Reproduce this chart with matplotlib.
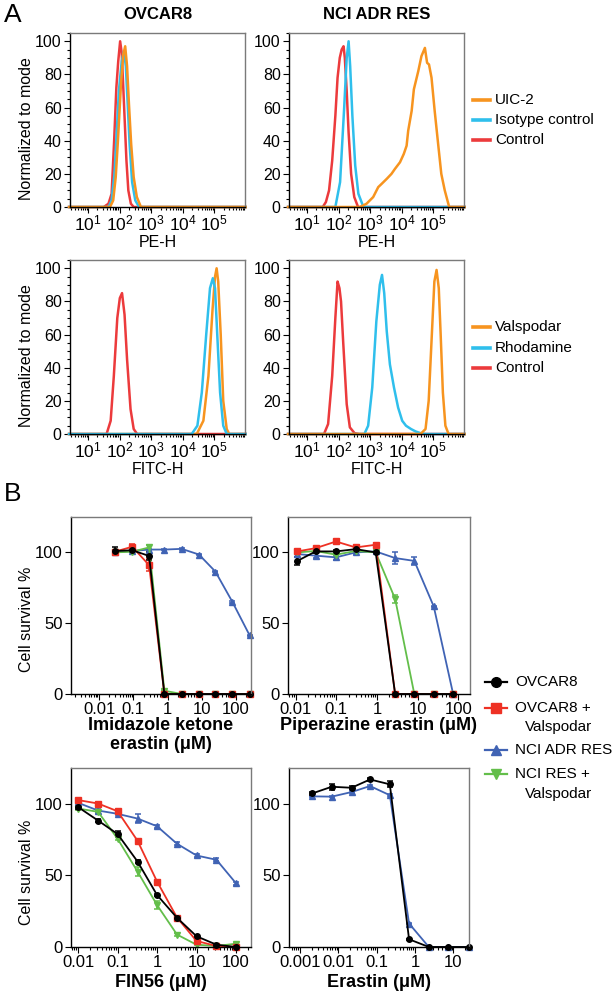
import matplotlib
matplotlib.use("Agg")
import matplotlib.pyplot as plt
from matplotlib.lines import Line2D
from matplotlib.ticker import (FixedLocator, FixedFormatter, LogLocator,
                               NullFormatter, MultipleLocator)

plt.rcParams["font.family"] = ["Liberation Sans", "DejaVu Sans"]
plt.rcParams["mathtext.fontset"] = "custom"
plt.rcParams["mathtext.rm"] = "Liberation Sans"

W, H = 613, 993

RED = "#EC3A3C"
CYAN = "#2FBFEC"
ORANGE = "#F7941F"

# ---------------- panel A: flow histograms (log10 intensity, % of mode)
# OVCAR8, PE-H
ov_pe_ctrl_x = [0.4, 1.5, 1.65, 1.75, 1.83, 1.9, 1.96, 2.02, 2.07, 2.12, 2.17, 2.22, 2.28, 2.36, 2.45, 6.0]
ov_pe_ctrl_y = [0, 0, 2, 8, 40, 72, 88, 100, 93, 72, 50, 28, 10, 2, 0, 0]
ov_pe_iso_x = [0.4, 1.65, 1.75, 1.84, 1.92, 1.98, 2.07, 2.14, 2.2, 2.26, 2.32, 2.4, 2.5, 2.62, 6.0]
ov_pe_iso_y = [0, 0, 4, 20, 48, 70, 88, 94, 85, 62, 38, 15, 4, 0, 0]
ov_pe_uic_x = [0.4, 1.7, 1.8, 1.88, 1.95, 2.05, 2.12, 2.18, 2.24, 2.3, 2.37, 2.45, 2.55, 2.68, 6.0]
ov_pe_uic_y = [0, 0, 4, 18, 40, 75, 92, 97, 85, 62, 38, 18, 6, 0, 0]

# NCI ADR RES, PE-H
adr_pe_ctrl_x = [0.4, 1.5, 1.6, 1.7, 1.8, 1.9, 1.97, 2.04, 2.1, 2.16, 2.2, 2.26, 2.32, 2.4, 2.5, 2.62, 6.0]
adr_pe_ctrl_y = [0, 0, 3, 10, 28, 55, 78, 90, 95, 97, 90, 70, 45, 20, 6, 0, 0]
adr_pe_iso_x = [0.4, 1.9, 2.05, 2.18, 2.26, 2.32, 2.37, 2.44, 2.53, 2.63, 2.79, 6.0]
adr_pe_iso_y = [0, 0, 15, 60, 90, 100, 85, 55, 25, 8, 0, 0]
adr_pe_uic_x = [0.4, 2.68, 2.89, 3.1, 3.26, 3.37, 3.53, 3.68, 3.79, 3.95, 4.07, 4.16,
                4.21, 4.32, 4.39, 4.53, 4.63, 4.74, 4.81, 4.87, 4.95, 5.05, 5.16,
                5.26, 5.37, 5.51, 6.0]
adr_pe_uic_y = [0, 0, 2, 6, 12, 14, 17, 20, 23, 27, 32, 37,
                46, 58, 71, 82, 91, 96, 87, 86, 78, 58, 38,
                20, 10, 0, 0]

# OVCAR8, FITC-H
ov_fitc_ctrl_x = [0.4, 1.59, 1.72, 1.82, 1.93, 2.01, 2.08, 2.16, 2.24, 2.35, 2.45, 2.56, 6.0]
ov_fitc_ctrl_y = [0, 0, 8, 35, 70, 82, 85, 72, 45, 15, 3, 0, 0]
ov_fitc_rho_x = [0.4, 4.29, 4.47, 4.61, 4.75, 4.87, 4.96, 5.03, 5.1, 5.19, 5.29, 5.4, 6.0]
ov_fitc_rho_y = [0, 0, 5, 25, 60, 88, 94, 88, 60, 25, 5, 0, 0]
ov_fitc_val_x = [0.4, 4.45, 4.66, 4.82, 4.95, 5.03, 5.08, 5.13, 5.21, 5.29, 5.4, 5.48, 6.0]
ov_fitc_val_y = [0, 0, 8, 35, 75, 95, 100, 92, 60, 20, 3, 0, 0]

# NCI ADR RES, FITC-H
adr_fitc_ctrl_x = [0.4, 1.54, 1.67, 1.8, 1.9, 1.97, 2.03, 2.08, 2.15, 2.26, 2.36, 2.51, 2.66, 6.0]
adr_fitc_ctrl_y = [0, 0, 6, 35, 70, 92, 88, 80, 55, 18, 4, 0.5, 0, 0]
adr_fitc_rho_x = [0.4, 2.82, 2.94, 3.07, 3.2, 3.31, 3.38, 3.45, 3.53, 3.63, 3.76, 3.89,
                  4.02, 4.14, 4.3, 4.45, 4.6, 4.76, 6.0]
adr_fitc_rho_y = [0, 0, 5, 28, 68, 90, 96, 85, 62, 42, 28, 16,
                  8, 5, 3, 1.5, 0.5, 0, 0]
adr_fitc_val_x = [0.4, 4.6, 4.76, 4.86, 4.96, 5.04, 5.11, 5.18, 5.24, 5.31, 5.39, 5.49, 6.0]
adr_fitc_val_y = [0, 0, 3, 20, 60, 92, 99, 88, 60, 25, 5, 0, 0]

flow_ticks = [1e1, 1e2, 1e3, 1e4, 1e5]
flow_ticklabels = [r"$\mathregular{10^1}$", r"$\mathregular{10^2}$", r"$\mathregular{10^3}$",
                   r"$\mathregular{10^4}$", r"$\mathregular{10^5}$"]

# ---------------- panel B: cell survival (%)
doses_ike = [0.029, 0.093, 0.29, 0.81, 2.6, 8.3, 25, 79, 250]
ike_ovcar8 = [101, 101.5, 97.5, 0, 0, 0, 0, 0, 0]
ike_ovcar8_err = [2.5, 1, 3, 0, 0, 0, 0, 0, 0]
ike_ovcar8_val = [100.5, 104, 91, 0, 0, 0, 0, 0, 0]
ike_ovcar8_val_err = [1.5, 2, 4, 0, 0, 0, 0, 0, 0]
ike_adr = [100, 101, 102, 102, 102.5, 98.5, 86.5, 65, 41.5]
ike_adr_err = [0.5, 0.5, 0.5, 0.5, 0.5, 0.5, 0.5, 0.5, 0.5]
ike_res_val = [100, 100.5, 103.5, 2.3, 0, 0, 0, 0, 0]
ike_res_val_err = [0.5, 0.5, 2, 0.5, 0, 0, 0, 0, 0]

doses_pe = [0.011, 0.031, 0.098, 0.30, 0.93, 2.8, 8.3, 25, 75]
pe_ovcar8 = [94, 100.7, 100.7, 102.3, 100, 0, 0, 0, 0]
pe_ovcar8_err = [3, 1, 1, 1, 1, 0, 0, 0, 0]
pe_ovcar8_val = [100.7, 103, 107.7, 103.5, 105.4, 0, 0, 0, 0]
pe_ovcar8_val_err = [1, 1, 1, 1, 1, 0, 0, 0, 0]
pe_adr = [98.8, 97.7, 96.5, 100, 100.7, 96, 94, 61.8, 0]
pe_adr_err = [2, 2, 2, 1, 1, 4, 3, 0.5, 0]
pe_res_val = [100, 101, 98.4, 101, 100, 67.2, 0, 0, 0]
pe_res_val_err = [0.5, 0.5, 1, 0.5, 0.5, 3, 0, 0, 0]

doses_fin = [0.01, 0.032, 0.1, 0.32, 1, 3.2, 10, 32, 100]
fin_ovcar8 = [97.7, 88.3, 78.9, 59.7, 36.3, 20.4, 7.5, 1.6, 0]
fin_ovcar8_err = [1, 1, 2, 1, 1, 1, 1, 0.5, 0]
fin_ovcar8_val = [102.6, 100.2, 94.8, 74.2, 45.7, 20.6, 4.2, 0.7, 0]
fin_ovcar8_val_err = [1, 1, 1, 1, 1, 1, 1, 0.5, 0]
fin_adr = [100.7, 95.3, 93, 89.7, 84.3, 72.1, 63.9, 60.9, 44.5]
fin_adr_err = [1, 2, 1, 3, 1, 1, 1, 1, 1]
fin_res_val = [96.7, 94.4, 75.6, 52.7, 29.3, 8.7, 1.6, 0.7, 2.3]
fin_res_val_err = [1, 1, 1, 3, 3, 1, 0.5, 0.5, 0.5]

doses_era = [0.0021, 0.0067, 0.022, 0.067, 0.22, 0.7, 2.3, 7.4, 25]
era_ovcar8 = [107.3, 111.9, 111.2, 117, 113.6, 5.4, 0, 0, 0]
era_ovcar8_err = [1, 2, 1, 1, 2, 0.5, 0, 0, 0]
era_adr = [105.2, 105, 108.2, 112.4, 106, 16.4, 0, 0, 0]
era_adr_err = [0.5, 0.5, 0.5, 0.5, 0.5, 0.5, 0, 0, 0]

B_BLACK = "#000000"
B_RED = "#EE3124"
B_BLUE = "#4063B4"
B_GREEN = "#63BE4A"


fig = plt.figure(figsize=(W / 100, H / 100), dpi=100)


def axes_px(left, top, right, bottom):
    return fig.add_axes([left / W, 1 - bottom / H, (right - left) / W, (bottom - top) / H])


def style_box(ax):
    for side in ("top", "right"):
        ax.spines[side].set_color("#7a7a7a")
    for side in ax.spines:
        ax.spines[side].set_linewidth(1.0)
    ax.tick_params(which="both", direction="out", width=0.8, labelsize=11.5, pad=2)
    ax.tick_params(which="major", length=4)
    ax.tick_params(which="minor", length=2)
    ax.tick_params(top=False, right=False, which="both")


def style_flow(ax, xlabel, ylabel=True):
    ax.set_xscale("log")
    ax.set_xlim(10 ** 0.43, 10 ** 5.98)
    ax.set_ylim(0, 105)
    ax.xaxis.set_major_locator(FixedLocator(flow_ticks))
    ax.xaxis.set_major_formatter(FixedFormatter(flow_ticklabels))
    ax.xaxis.set_minor_locator(LogLocator(base=10, subs=range(2, 10), numticks=20))
    ax.xaxis.set_minor_formatter(NullFormatter())
    ax.yaxis.set_major_locator(MultipleLocator(20))
    ax.yaxis.set_minor_locator(MultipleLocator(5))
    style_box(ax)
    ax.tick_params(axis="x", labelsize=12.5, pad=1)
    ax.set_xlabel(xlabel, fontsize=11.5, labelpad=1)
    if ylabel:
        ax.set_ylabel("Normalized to mode", fontsize=11.5)
        ax.yaxis.set_label_coords(-0.205, 0.45)


def flow(ax, xs, ys, color):
    ax.plot([10 ** v for v in xs], ys, color=color, lw=1.8, clip_on=False, solid_joinstyle="round")


def style_cell(ax, lo, hi, ticks, ticklabels, xlabel, pad=0):
    ax.set_xscale("log")
    ax.set_xlim(10 ** lo, 10 ** hi)
    ax.set_ylim(0, 125)
    ax.set_yticks([0, 50, 100])
    ax.xaxis.set_major_locator(FixedLocator(ticks))
    ax.xaxis.set_major_formatter(FixedFormatter(ticklabels))
    ax.xaxis.set_minor_locator(LogLocator(base=10, subs=range(2, 10), numticks=20))
    ax.xaxis.set_minor_formatter(NullFormatter())
    style_box(ax)
    ax.tick_params(labelsize=12)
    ax.set_xlabel(xlabel, fontsize=13, fontweight="bold", labelpad=pad, linespacing=1.15)


def curve(ax, x, y, err, color, marker, ms):
    ax.errorbar(x, y, yerr=err, color=color, marker=marker, ms=ms, lw=1.3,
                elinewidth=1.1, capsize=2.5, capthick=1.1, clip_on=False)


# ---------------- A
ax1 = axes_px(70, 33, 245, 207)
flow(ax1, ov_pe_ctrl_x, ov_pe_ctrl_y, RED)
flow(ax1, ov_pe_iso_x, ov_pe_iso_y, CYAN)
flow(ax1, ov_pe_uic_x, ov_pe_uic_y, ORANGE)
style_flow(ax1, "PE-H")
ax1.set_title("OVCAR8", fontsize=12, fontweight="bold", pad=10)

ax2 = axes_px(289, 33, 464, 207)
flow(ax2, adr_pe_ctrl_x, adr_pe_ctrl_y, RED)
flow(ax2, adr_pe_iso_x, adr_pe_iso_y, CYAN)
flow(ax2, adr_pe_uic_x, adr_pe_uic_y, ORANGE)
style_flow(ax2, "PE-H", ylabel=False)
ax2.set_title("NCI ADR RES", fontsize=12, fontweight="bold", pad=10)

ax3 = axes_px(70, 260, 245, 434)
flow(ax3, ov_fitc_ctrl_x, ov_fitc_ctrl_y, RED)
flow(ax3, ov_fitc_val_x, ov_fitc_val_y, ORANGE)
flow(ax3, ov_fitc_rho_x, ov_fitc_rho_y, CYAN)
style_flow(ax3, "FITC-H")

ax4 = axes_px(289, 260, 464, 434)
flow(ax4, adr_fitc_ctrl_x, adr_fitc_ctrl_y, RED)
flow(ax4, adr_fitc_rho_x, adr_fitc_rho_y, CYAN)
flow(ax4, adr_fitc_val_x, adr_fitc_val_y, ORANGE)
style_flow(ax4, "FITC-H", ylabel=False)


def legend_row(y, color, label, marker=None, lw=2.6, ms=0, x0=473, x1=490, tx=495):
    yf = 1 - y / H
    fig.add_artist(Line2D([x0 / W, x1 / W], [yf, yf], color=color, lw=lw,
                          transform=fig.transFigure))
    if marker:
        fig.add_artist(Line2D([(x0 + x1) / 2 / W], [yf], color=color, marker=marker,
                              ms=ms, lw=0, transform=fig.transFigure))
    fig.text(tx / W, yf, label, fontsize=11, ha="left", va="center")


legend_row(100, ORANGE, "UIC-2")
legend_row(120, CYAN, "Isotype control")
legend_row(140, RED, "Control")
legend_row(327, ORANGE, "Valspodar")
legend_row(348, CYAN, "Rhodamine")
legend_row(368, RED, "Control")

# ---------------- B
decimal_ticks = [0.01, 0.1, 1, 10, 100]
decimal_labels = ["0.01", "0.1", "1", "10", "100"]

bx1 = axes_px(71, 517, 251, 694)
curve(bx1, doses_ike, ike_adr, ike_adr_err, B_BLUE, "^", 4)
curve(bx1, doses_ike, ike_res_val, ike_res_val_err, B_GREEN, "v", 4)
curve(bx1, doses_ike, ike_ovcar8_val, ike_ovcar8_val_err, B_RED, "s", 4.5)
curve(bx1, doses_ike, ike_ovcar8, ike_ovcar8_err, B_BLACK, "o", 4)
style_cell(bx1, -2.82, 2.44, decimal_ticks, decimal_labels, "Imidazole ketone\nerastin (μM)")
bx1.set_ylabel("Cell survival %", fontsize=11.5)
bx1.yaxis.set_label_coords(-0.205, 0.42)

bx2 = axes_px(288, 517, 470, 694)
curve(bx2, doses_pe, pe_adr, pe_adr_err, B_BLUE, "^", 4)
curve(bx2, doses_pe, pe_res_val, pe_res_val_err, B_GREEN, "v", 4)
curve(bx2, doses_pe, pe_ovcar8_val, pe_ovcar8_val_err, B_RED, "s", 4.5)
curve(bx2, doses_pe, pe_ovcar8, pe_ovcar8_err, B_BLACK, "o", 4)
style_cell(bx2, -2.19, 2.29, decimal_ticks, decimal_labels, "Piperazine erastin (μM)")

bx3 = axes_px(71, 768, 251, 947)
curve(bx3, doses_fin, fin_adr, fin_adr_err, B_BLUE, "^", 4)
curve(bx3, doses_fin, fin_res_val, fin_res_val_err, B_GREEN, "v", 4)
curve(bx3, doses_fin, fin_ovcar8_val, fin_ovcar8_val_err, B_RED, "s", 4.5)
curve(bx3, doses_fin, fin_ovcar8, fin_ovcar8_err, B_BLACK, "o", 4)
style_cell(bx3, -2.18, 2.38, decimal_ticks, decimal_labels, "FIN56 (μM)", pad=2.5)
bx3.set_ylabel("Cell survival %", fontsize=11.5)
bx3.yaxis.set_label_coords(-0.205, 0.42)

bx4 = axes_px(289, 768, 469, 947)
curve(bx4, doses_era, era_adr, era_adr_err, B_BLUE, "^", 4)
curve(bx4, doses_era, era_ovcar8, era_ovcar8_err, B_BLACK, "o", 4)
style_cell(bx4, -3.29, 1.41, [0.001, 0.01, 0.1, 1, 10],
           ["0.001", "0.01", "0.1", "1", "10"], "Erastin (μM)", pad=2.5)

# legend for B
legend_row(682, B_BLACK, "OVCAR8", marker="o", lw=1.6, ms=7, x0=485, x1=507, tx=515)
legend_row(708, B_RED, "OVCAR8 +", marker="s", lw=1.6, ms=7.5, x0=485, x1=507, tx=515)
fig.text(525 / W, 1 - 727 / H, "Valspodar", fontsize=11, ha="left", va="center")
legend_row(750, B_BLUE, "NCI ADR RES", marker="^", lw=1.6, ms=7, x0=485, x1=507, tx=515)
legend_row(774, B_GREEN, "NCI RES +", marker="v", lw=1.6, ms=7, x0=485, x1=507, tx=515)
fig.text(525 / W, 1 - 794 / H, "Valspodar", fontsize=11, ha="left", va="center")

# panel letters
fig.text(4 / W, 1 - 15 / H, "A", fontsize=19, ha="left", va="center")
fig.text(4 / W, 1 - 494 / H, "B", fontsize=19, ha="left", va="center")

fig.savefig("out.png", dpi=100)
